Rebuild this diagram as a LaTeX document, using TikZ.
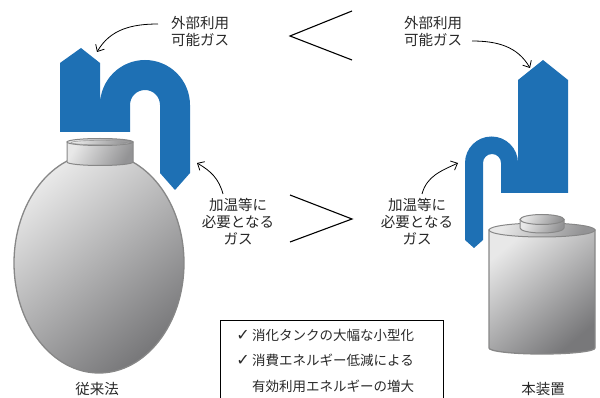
\documentclass[tikz,border=0pt]{standalone}
\usepackage{fontspec}
\newfontfamily\jp{Noto Sans CJK JP}
\newfontfamily\symfont{DejaVu Sans}
\usetikzlibrary{arrows.meta}
\definecolor{pipeblue}{RGB}{30,112,180}
\definecolor{inkgray}{RGB}{40,40,40}
\definecolor{rimgray}{RGB}{135,135,135}
\definecolor{shadelight}{RGB}{232,232,232}
\definecolor{shademid}{RGB}{185,185,187}
\definecolor{shadedark}{RGB}{120,120,122}
\tikzset{
  lbl/.style={font=\jp\fontsize{14.5}{17}\selectfont, text=inkgray, align=center, inner sep=0pt},
  boxtxt/.style={font=\jp\fontsize{13.5}{16}\selectfont, text=inkgray, anchor=west, inner sep=0pt},
  chk/.style={font=\symfont\fontsize{16}{18}\selectfont, text=inkgray, inner sep=0pt},
  pipe/.style={fill=pipeblue, draw=none},
  tank/.style={draw=rimgray, line width=1.3pt, shading=axis, top color=shadelight, middle color=shademid, bottom color=shadedark, shading angle=40},
  tanklid/.style={draw=rimgray, line width=1pt, shading=axis, top color=shadelight, bottom color=shadedark!80, shading angle=60},
  callout/.style={draw=black, line width=0.8pt, -{Straight Barb[length=5.5pt,width=10pt]}},
  cmp/.style={draw=black, line width=1.1pt},
}
\begin{document}
\begin{tikzpicture}[x=1pt,y=-1pt]
\useasboundingbox (0,0) rectangle (600,398);

% ---------- conventional tank (ellipsoid with neck) ----------
\draw[tank] (99,263) ellipse [x radius=85, y radius=110];
\draw[tanklid] (67,142) -- (67,162) arc[start angle=180, end angle=0, x radius=33, y radius=3.5] -- (133,142) -- cycle;
\draw[tanklid] (100,142) ellipse [x radius=33, y radius=3.5];
\draw[draw=rimgray!80, line width=0.6pt] (100,142.6) ellipse [x radius=29, y radius=2.2];

% ---------- compact tank (cylinder) ----------
\draw[tank] (489,230) -- (489,348) arc[start angle=180, end angle=0, x radius=53, y radius=6] -- (595,348) -- (595,230) -- cycle;
\draw[tanklid] (542,230) ellipse [x radius=53, y radius=7];
\draw[tanklid] (520,219.5) -- (520,228) arc[start angle=180, end angle=0, x radius=22, y radius=5] -- (564,219.5) -- cycle;
\draw[tanklid] (542,219.5) ellipse [x radius=22, y radius=5];

% ---------- gas pipes ----------
\fill[pipe] (60,63) -- (81,48) -- (100,63) -- (100,105)
  arc[start angle=180, end angle=360, radius=45] -- (190,173) -- (175,190) -- (160,173) -- (160,105)
  arc[start angle=0, end angle=-180, radius=15] -- (130,132) -- (60,132) -- cycle;

\fill[pipe] (518,80) -- (543,60) -- (568,80) -- (568,193) -- (501,193) -- (501,163)
  arc[start angle=0, end angle=-180, radius=9] -- (483,240) -- (474,248) -- (465,240) -- (465,163)
  arc[start angle=180, end angle=360, radius=26.5] -- cycle;

% ---------- labels ----------
\node[lbl] (extL) at (200,31.5) {外部利用\\可能ガス};
\node[lbl] (extR) at (433,31.5) {外部利用\\可能ガス};
\node[lbl] (heatL) at (238,222) {加温等に\\必要となる\\ガス};
\node[lbl] (heatR) at (417,222) {加温等に\\必要となる\\ガス};
\node[lbl] (oldname) at (97,389) {従来法};
\node[lbl] (newname) at (543,389) {本装置};

% ---------- callout arrows ----------
\coordinate (extLs) at (158,24);
\coordinate (extLt) at (97,52);
\coordinate (extRs) at (472,41);
\coordinate (extRt) at (530,68);
\coordinate (heatLs) at (223,194);
\coordinate (heatLt) at (197,163);
\coordinate (heatRs) at (422,194);
\coordinate (heatRt) at (458,163);
\draw[callout] (extLs) to[out=180, in=60] (extLt);
\draw[callout] (extRs) to[out=0, in=120] (extRt);
\draw[callout] (heatLs) to[out=105, in=-30] (heatLt);
\draw[callout] (heatRs) to[out=75, in=205] (heatRt);

% ---------- comparison signs ----------
\coordinate (ltA) at (352,11);
\coordinate (ltV) at (290,36);
\coordinate (ltB) at (352,60);
\draw[cmp] (ltA) -- (ltV) -- (ltB);
\coordinate (gtA) at (290,195);
\coordinate (gtV) at (352,219);
\coordinate (gtB) at (290,242);
\draw[cmp] (gtA) -- (gtV) -- (gtB);

% ---------- benefits box ----------
\draw[line width=0.9pt, draw=black] (220,320) rectangle (443,420);
\node[chk] (c1) at (243,335) {✓};
\node[chk] (c2) at (243,360) {✓};
\node[boxtxt] (b1) at (252,335) {消化タンクの大幅な小型化};
\node[boxtxt] (b2) at (252,360) {消費エネルギー低減による};
\node[boxtxt] (b3) at (252,386) {有効利用エネルギーの増大};
\end{tikzpicture}
\end{document}
